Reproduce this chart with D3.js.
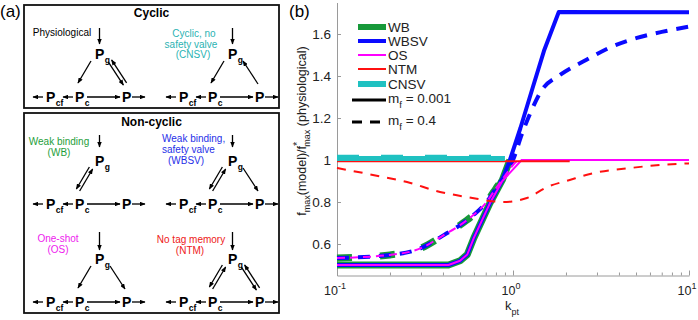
<!DOCTYPE html>
<html>
<head>
<meta charset="utf-8">
<script src="https://cdn.jsdelivr.net/npm/d3@7"></script>
<style>
	body { margin: 0; background: #fff; }
	svg { display: block; font-family: "Liberation Sans", Arial, Helvetica, sans-serif; }
</style>
</head>
<body>
<svg id="fig" width="698" height="320"></svg>
<script>
(function () {

	'use strict';

	// ---------------- panel (b) data: [k_pt, fmax ratio] ----------------
	const wbSolid   = [[0.1, 0.5], [0.43, 0.5], [0.5, 0.52], [0.55, 0.55], [0.6, 0.63], [0.74, 0.795], [0.87, 0.905], [0.96, 1.0]];
	const wbsvSolid = [[0.1, 0.5], [0.43, 0.5], [0.5, 0.52], [0.55, 0.55], [0.6, 0.63], [0.74, 0.795], [0.87, 0.905], [0.96, 1.0],
		[1.1, 1.15], [1.3, 1.35], [1.5, 1.52], [1.82, 1.705], [10, 1.703]];
	const osSolid   = [[0.1, 0.5], [0.43, 0.5], [0.5, 0.52], [0.55, 0.55], [0.6, 0.63], [0.74, 0.795], [0.87, 0.9], [1.12, 1.0], [10, 1.0]];
	const ntmSolid  = [[0.1, 0.994], [2.1, 0.994]];
	const cnsvSolid = [[0.1, 1.007], [0.9, 1.007]];

	const wbDash   = [[0.1, 0.533], [0.2, 0.548], [0.3, 0.58], [0.4, 0.64], [0.5, 0.69], [0.6, 0.74], [0.7, 0.795], [0.8, 0.865], [0.9, 0.93], [0.97, 1.0]];
	const wbsvDash = [[0.1, 0.533], [0.2, 0.548], [0.3, 0.58], [0.4, 0.64], [0.5, 0.69], [0.6, 0.74], [0.7, 0.795], [0.8, 0.865], [0.9, 0.93], [1.0, 1.0],
		[1.12, 1.12], [1.25, 1.22], [1.45, 1.33], [1.85, 1.405], [2.6, 1.476], [3.6, 1.538], [5, 1.58], [7, 1.61], [10, 1.635]];
	const osDash   = [[0.1, 0.533], [0.2, 0.548], [0.3, 0.58], [0.4, 0.64], [0.5, 0.69], [0.6, 0.74], [0.7, 0.795], [0.8, 0.865], [0.9, 0.925], [1.1, 1.0], [10, 1.0]];
	const ntmDash  = [[0.1, 0.962], [0.16, 0.929], [0.25, 0.895], [0.385, 0.848], [0.555, 0.823], [0.88, 0.8], [1.2, 0.819], [1.56, 0.871],
		[2.1, 0.905], [2.85, 0.937], [4.45, 0.96], [6.8, 0.976], [10, 0.984]];
	const cnsvDash = [[0.1, 1.013], [0.9, 1.013]];

	const yTicks = [0.6, 0.8, 1, 1.2, 1.4, 1.6];
	const xMajor = [0.1, 1, 10];
	const xMinor = [0.2, 0.3, 0.4, 0.5, 0.6, 0.7, 0.8, 0.9, 2, 3, 4, 5, 6, 7, 8, 9];
	const legendNames = ['WB', 'WBSV', 'OS', 'NTM', 'CNSV'];

	// model styles (drawn in this order, later on top)
	const models = [
		{ name: 'WB',   color: '#17993a', width: 7, dash: '15,28', solid: wbSolid,   dashed: wbDash },
		{ name: 'WBSV', color: '#0a0aff', width: 4, dash: '12,9',  solid: wbsvSolid, dashed: wbsvDash },
		{ name: 'OS',   color: '#ff00ff', width: 2, dash: '8,5',   solid: osSolid,   dashed: osDash },
		{ name: 'NTM',  color: '#ff1010', width: 2, dash: '9,8',   solid: ntmSolid,  dashed: ntmDash },
		{ name: 'CNSV', color: '#1fc1c1', width: 5, dash: '22,22', solid: cnsvSolid, dashed: cnsvDash }
	];

	let svg = d3.select('#fig');

	// arrowhead
	svg.append('defs').append('marker')
		.attr('id', 'ah')
		.attr('viewBox', '0 0 10 8')
		.attr('refX', 9).attr('refY', 4)
		.attr('markerWidth', 6).attr('markerHeight', 4.6)
		.attr('markerUnits', 'userSpaceOnUse')
		.attr('orient', 'auto')
		.append('path').attr('d', 'M0,0L10,4L0,8z').attr('fill', '#000');

	/* ------------------------------- panel (a) ------------------------------- */

	let pa = svg.append('g');

	pa.append('text').attr('x', 0).attr('y', 17).attr('font-size', 17).text('(a)');

	pa.append('rect').attr('x', 24).attr('y', 5).attr('width', 255).attr('height', 103)
		.attr('fill', 'none').attr('stroke', '#111').attr('stroke-width', 1.8);
	pa.append('rect').attr('x', 24).attr('y', 113).attr('width', 255).attr('height', 200)
		.attr('fill', 'none').attr('stroke', '#111').attr('stroke-width', 1.8);

	pa.append('text').attr('x', 151.5).attr('y', 17).attr('text-anchor', 'middle')
		.attr('font-size', 12).attr('font-weight', 'bold').text('Cyclic');
	pa.append('text').attr('x', 151.5).attr('y', 126).attr('text-anchor', 'middle')
		.attr('font-size', 12).attr('font-weight', 'bold').text('Non-cyclic');

	// gc / gp: link type between Pg and Pc, Pg and P
	const diagrams = [
		{ x: 95,  y: 59,  down: [-31, -15], gc: 'one', gp: 'two', color: '#000',
			lines: [{ t: 'Physiological', x: 62, y: 36 }], anchor: 'middle' },
		{ x: 228, y: 59,  down: [-31, -15], gc: 'one', gp: 'rev', color: '#2ab3b3',
			lines: [{ t: 'Cyclic, no', x: 194, y: 37 }, { t: 'safety valve', x: 191, y: 47.5 }, { t: '(CNSV)', x: 193, y: 58 }], anchor: 'middle' },
		{ x: 95,  y: 166, down: [-31, -19], gc: 'two', gp: null, color: '#1e9e3a',
			lines: [{ t: 'Weak binding', x: 59, y: 145 }, { t: '(WB)', x: 59, y: 156 }], anchor: 'middle' },
		{ x: 228, y: 166, down: [-31, -19], gc: 'two', gp: 'one', color: '#1f2fe8',
			lines: [{ t: 'Weak binding,', x: 162, y: 142 }, { t: 'safety valve', x: 162, y: 153 }, { t: '(WBSV)', x: 168, y: 164 }], anchor: 'start' },
		{ x: 95,  y: 264, down: [-32, -14], gc: 'one', gp: 'one', color: '#ee1aee',
			lines: [{ t: 'One-shot', x: 58, y: 242 }, { t: '(OS)', x: 58, y: 253 }], anchor: 'middle' },
		{ x: 228, y: 264, down: [-32, -14], gc: 'two', gp: 'two', color: '#ee2020',
			lines: [{ t: 'No tag memory', x: 191, y: 243 }, { t: '(NTM)', x: 190, y: 254 }], anchor: 'middle' }
	];

	function arrow(g, x1, y1, x2, y2) {
		g.append('line')
			.attr('x1', x1).attr('y1', y1).attr('x2', x2).attr('y2', y2)
			.attr('stroke', '#000').attr('stroke-width', 1.3)
			.attr('marker-end', 'url(#ah)');
	}

	function doubleArrow(g, x1, y1, x2, y2) {
		let dx = x2 - x1, dy = y2 - y1, len = Math.hypot(dx, dy);
		let nx = -dy / len * 1.9, ny = dx / len * 1.9;
		arrow(g, x1 + nx, y1 + ny, x2 + nx, y2 + ny);
		arrow(g, x2 - nx, y2 - ny, x1 - nx, y1 - ny);
	}

	function link(g, type, x1, y1, x2, y2) {
		if (type === 'one') arrow(g, x1, y1, x2, y2);
		else if (type === 'rev') arrow(g, x2, y2, x1, y1);
		else if (type === 'two') doubleArrow(g, x1, y1, x2, y2);
	}

	function pLabel(g, x, y, sub) {
		let t = g.append('text').attr('x', x).attr('y', y)
			.attr('font-size', 14).attr('font-weight', 'bold').text('P');
		if (sub) {
			t.append('tspan').attr('dx', 0.5).attr('dy', 4).attr('font-size', 8.5).text(sub);
		}
	}

	diagrams.forEach(function (d) {
		let g = pa.append('g');
		let x0 = d.x, y0 = d.y, yb = d.y + 42.5, ya = d.y + 38;

		d.lines.forEach(function (l) {
			g.append('text').attr('x', l.x).attr('y', l.y)
				.attr('text-anchor', d.anchor).attr('font-size', 10)
				.attr('fill', d.color).text(l.t);
		});

		// input into Pg
		arrow(g, x0 + 4.5, y0 + d.down[0], x0 + 4.5, y0 + d.down[1]);

		pLabel(g, x0, y0, 'g');
		pLabel(g, x0 - 49, yb, 'cf');
		pLabel(g, x0 - 20, yb, 'c');
		pLabel(g, x0 + 27, yb, null);

		// bottom row
		arrow(g, x0 - 52, ya, x0 - 62, ya);
		arrow(g, x0 - 22, ya, x0 - 32, ya);
		arrow(g, x0 - 8, ya, x0 + 25, ya);
		arrow(g, x0 + 37, ya, x0 + 50, ya);

		link(g, d.gc, x0 - 4, y0 + 2, x0 - 17, y0 + 24);
		link(g, d.gp, x0 + 15, y0 + 2, x0 + 30, y0 + 25);
	});

	/* ------------------------------- panel (b) ------------------------------- */

	let pb = svg.append('g');

	pb.append('text').attr('x', 289).attr('y', 17).attr('font-size', 17).text('(b)');

	let x = d3.scaleLog().domain([0.1, 10]).range([337, 689]);
	let y = d3.scaleLinear().domain([0.45, 1.75]).range([275.5, 2.5]);

	// axes
	let axisColor = '#9a9a9a';

	let yAxis = pb.append('g')
		.attr('transform', 'translate(337,0)')
		.call(d3.axisLeft(y).tickValues(yTicks).tickSizeInner(-4).tickSizeOuter(0).tickPadding(6)
			.tickFormat(function (d) { return d === 1 ? '1' : d.toFixed(1); }));
	yAxis.select('.domain').attr('stroke', axisColor);
	yAxis.selectAll('.tick line').attr('stroke', axisColor);
	yAxis.selectAll('.tick text').attr('font-size', 13.5).attr('font-family', null).attr('fill', '#222');

	let xMinorAxis = pb.append('g')
		.attr('transform', 'translate(0,275.5)')
		.call(d3.axisBottom(x).tickValues(xMinor).tickSizeInner(-3).tickSizeOuter(0).tickFormat(''));
	xMinorAxis.select('.domain').attr('stroke', axisColor);
	xMinorAxis.selectAll('.tick line').attr('stroke', axisColor);

	let xMajorAxis = pb.append('g')
		.attr('transform', 'translate(0,275.5)')
		.call(d3.axisBottom(x).tickValues(xMajor).tickSizeInner(-5).tickSizeOuter(0).tickFormat(''));
	xMajorAxis.select('.domain').remove();
	xMajorAxis.selectAll('.tick line').attr('stroke', axisColor);

	xMajor.forEach(function (v) {
		let t = pb.append('text')
			.attr('x', x(v) - 2).attr('y', 295)
			.attr('text-anchor', 'middle').attr('font-size', 12.5).attr('fill', '#222')
			.text('10');
		t.append('tspan').attr('dy', -6).attr('font-size', 9).text(Math.round(Math.log10(v)));
	});

	// axis labels
	let xl = pb.append('text').attr('x', 512).attr('y', 310)
		.attr('text-anchor', 'middle').attr('font-size', 13).attr('fill', '#222').text('k');
	xl.append('tspan').attr('dy', 5).attr('font-size', 9).text('pt');

	let yl = pb.append('text')
		.attr('transform', 'translate(306,131) rotate(-90)')
		.attr('text-anchor', 'middle').attr('font-size', 12.5).attr('fill', '#222')
		.text('f');
	yl.append('tspan').attr('dy', 4).attr('font-size', 9).text('max');
	yl.append('tspan').attr('dy', -4).text('(model)/f');
	yl.append('tspan').attr('dy', -5).attr('font-size', 11).text('*');
	yl.append('tspan').attr('dx', -5).attr('dy', 9).attr('font-size', 9).text('max');
	yl.append('tspan').attr('dy', -4).text(' (physiological)');

	// curves
	let lineFn = d3.line()
		.x(function (d) { return x(d[0]); })
		.y(function (d) { return y(d[1]); });

	let curves = pb.append('g');

	models.forEach(function (m) {
		curves.append('path')
			.attr('d', lineFn.curve(d3.curveLinear)(m.solid))
			.attr('fill', 'none').attr('stroke', m.color).attr('stroke-width', m.width)
			.attr('stroke-linejoin', 'round');
		curves.append('path')
			.attr('d', lineFn.curve(d3.curveMonotoneX)(m.dashed))
			.attr('fill', 'none').attr('stroke', m.color).attr('stroke-width', m.width)
			.attr('stroke-dasharray', m.dash);
	});

	// legend
	let legend = pb.append('g');
	let rowY = [27, 41, 55, 69, 84];
	let legendWidth = { WB: 6, WBSV: 4, OS: 2, NTM: 2, CNSV: 6 };

	legendNames.forEach(function (name, i) {
		let m = models.find(function (d) { return d.name === name; });
		legend.append('line')
			.attr('x1', 358).attr('x2', 386).attr('y1', rowY[i]).attr('y2', rowY[i])
			.attr('stroke', m.color).attr('stroke-width', legendWidth[name]);
		legend.append('text').attr('x', 388).attr('y', rowY[i] + 5)
			.attr('font-size', 13.5).attr('fill', '#222').text(name);
	});

	[{ y: 100, v: '0.001', dash: null }, { y: 122, v: '0.4', dash: '10,8' }].forEach(function (r) {
		legend.append('line')
			.attr('x1', 352).attr('x2', 386).attr('y1', r.y).attr('y2', r.y)
			.attr('stroke', '#000').attr('stroke-width', 3)
			.attr('stroke-dasharray', r.dash);
		let t = legend.append('text').attr('x', 388).attr('y', r.y + 3)
			.attr('font-size', 13.5).attr('fill', '#222').text('m');
		t.append('tspan').attr('dy', 5).attr('font-size', 9.5).text('f');
		t.append('tspan').attr('dy', -5).text(' = ' + r.v);
	});

})();
</script>
</body>
</html>
